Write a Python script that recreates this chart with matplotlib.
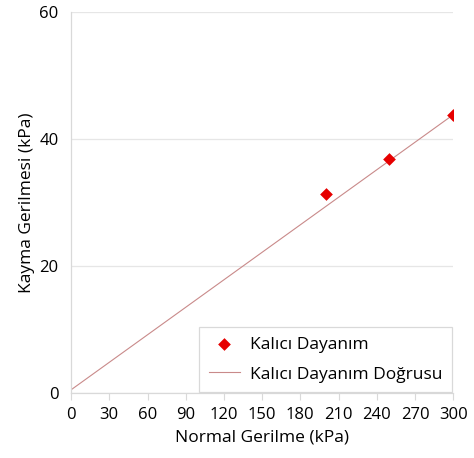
import matplotlib
matplotlib.use("Agg")
import matplotlib.pyplot as plt

# measured residual strength points
normal_stress = [200, 250, 300]
shear_stress = [31.3, 36.8, 43.7]

# failure envelope endpoints
line_x = [0, 300]
line_y = [0.5, 43.8]

x_ticks = list(range(0, 301, 30))
y_ticks = [0, 20, 40, 60]

plt.rcParams["font.family"] = ["Open Sans", "DejaVu Sans"]

fig = plt.figure(figsize=(4.74, 4.58), dpi=100)
ax = fig.add_axes([0.150, 0.142, 0.806, 0.832])

ax.plot(line_x, line_y, color="#c98a8a", linewidth=0.8, label="Kalıcı Dayanım Doğrusu", zorder=2)
ax.scatter(normal_stress, shear_stress, marker="D", s=42, color="#e60000", linewidths=0,
           label="Kalıcı Dayanım", zorder=3)

ax.set_xlim(0, 300)
ax.set_ylim(0, 60)
ax.set_xticks(x_ticks)
ax.set_yticks(y_ticks)
ax.tick_params(axis="x", direction="out", length=5, color="#d9d9d9", labelsize=12, pad=5)
ax.tick_params(axis="y", length=0, labelsize=12, pad=9)
ax.yaxis.grid(True, color="#e6e6e6", linewidth=0.9)
ax.set_axisbelow(True)

for side in ["top", "right"]:
    ax.spines[side].set_visible(False)
for side in ["left", "bottom"]:
    ax.spines[side].set_color("#d9d9d9")
    ax.spines[side].set_linewidth(0.9)

ax.set_xlabel("Normal Gerilme (kPa)", fontsize=12.5, labelpad=5)
ax.set_ylabel("Kayma Gerilmesi (kPa)", fontsize=12.5, labelpad=3)

handles, labels = ax.get_legend_handles_labels()
leg = ax.legend(handles[::-1], labels[::-1], loc="lower right", fontsize=12.5,
                frameon=True, fancybox=False, edgecolor="#d0d0d0",
                borderaxespad=0.05, handlelength=1.8, handletextpad=0.6,
                labelspacing=0.8, borderpad=0.55)
leg.get_frame().set_linewidth(0.9)

fig.savefig("out.png", dpi=100)
